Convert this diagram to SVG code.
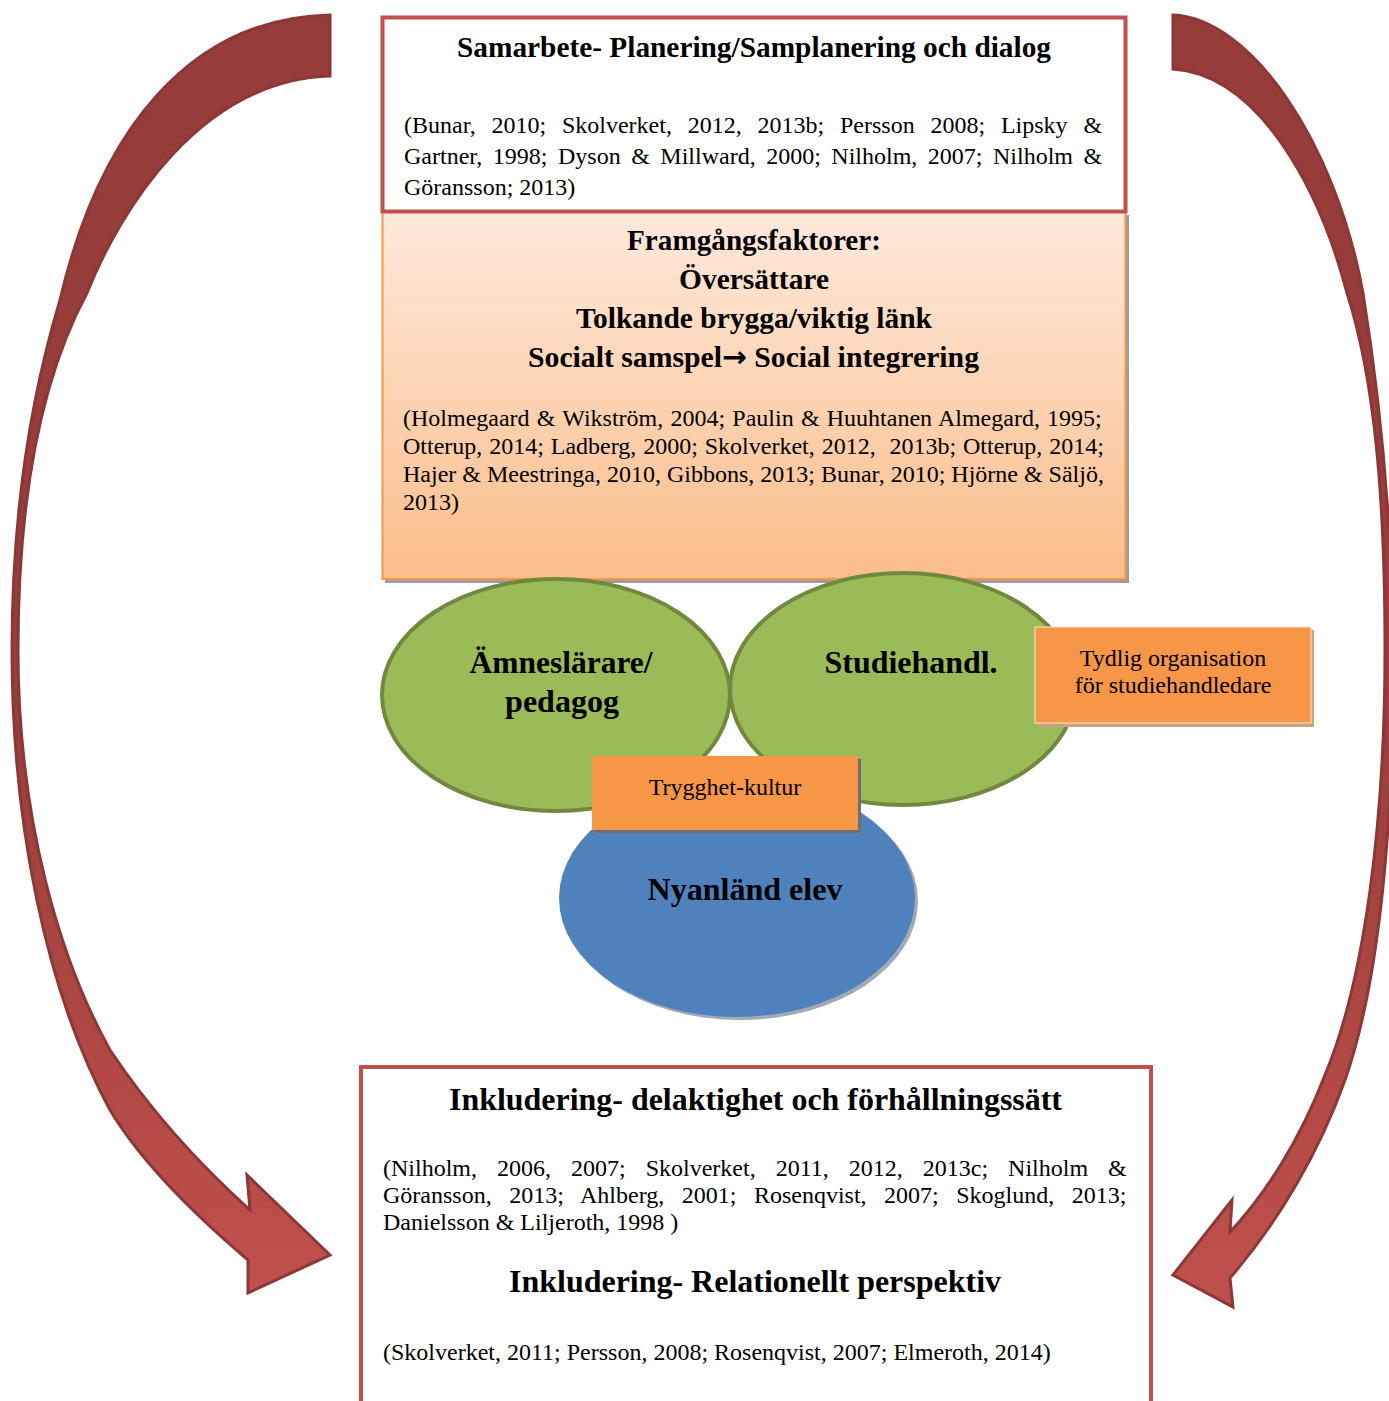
<svg xmlns="http://www.w3.org/2000/svg" width="1389" height="1401" viewBox="0 0 1389 1401">
  <defs>
    <linearGradient id="arrowFill" gradientUnits="userSpaceOnUse" x1="0" y1="0" x2="0" y2="1300">
      <stop offset="0" stop-color="#963c3a"/>
      <stop offset="0.55" stop-color="#983e3c"/>
      <stop offset="0.8" stop-color="#b04845"/>
      <stop offset="1" stop-color="#c0504d"/>
    </linearGradient>
    <linearGradient id="peach" x1="0" y1="0" x2="0" y2="1">
      <stop offset="0" stop-color="#fee9dc"/>
      <stop offset="1" stop-color="#fbbd8a"/>
    </linearGradient>
    <style>
      .arrow { fill: url(#arrowFill); stroke: #8c3836; stroke-width: 3; stroke-linejoin: miter; }
      .frame { fill: #ffffff; stroke: #c0504d; stroke-width: 4; }
      .green { fill: #9bbb59; stroke: #71893f; stroke-width: 4; }
      .tag { fill: #f79646; }
      text { font-family: "Liberation Serif", "Times New Roman", serif; fill: #000000; }
      .h { font-size: 29px; font-weight: bold; text-anchor: middle; }
      .hb { font-size: 32px; font-weight: bold; text-anchor: middle; }
      .c { font-size: 24px; white-space: pre; }
      .cm { font-size: 24px; text-anchor: middle; }
    </style>
  </defs>

  <!-- curved feedback arrows on both sides -->
  <g id="connectors">
    <path id="arrow-left" class="arrow" d="M330,15 C190,18 100,130 60,300 C30,400 12,520 12,650 C12,820 45,990 110,1110 C140,1160 195,1215 248,1260 L248,1293 L330,1255 L247,1175 L250,1210 C200,1165 150,1110 110,1050 C60,960 18,820 18,650 C18,500 40,380 87,293 C120,210 200,80 330,76 Z"/>
    <path id="arrow-right" class="arrow" d="M1173,15 C1250,18 1335,140 1363,293 C1380,400 1392,520 1393,650 C1394,820 1380,980 1345,1080 C1320,1150 1280,1220 1230,1278 L1233,1307 L1173,1275 L1232,1200 L1230,1232 C1265,1195 1300,1140 1325,1075 C1365,980 1385,820 1385,650 C1385,500 1375,380 1347,293 C1320,190 1260,75 1173,69 Z"/>
  </g>

  <!-- success factors panel -->
  <g id="framgangsfaktorer">
    <rect x="385" y="215" width="744" height="368" fill="#9c9c9c"/>
    <rect x="382.5" y="212" width="743" height="367" fill="url(#peach)" stroke="#f79646" stroke-width="2"/>
    <text class="h" x="754" y="250" textLength="254" lengthAdjust="spacingAndGlyphs">Framgångsfaktorer:</text>
    <text class="h" x="754" y="289" textLength="150" lengthAdjust="spacingAndGlyphs">Översättare</text>
    <text class="h" x="754" y="328" textLength="356" lengthAdjust="spacingAndGlyphs">Tolkande brygga/viktig länk</text>
    <text class="h" x="753.5" y="367" textLength="451" lengthAdjust="spacingAndGlyphs">Socialt samspel<tspan font-family="DejaVu Sans, sans-serif">→</tspan> Social integrering</text>
    <text class="c" x="403" y="426" word-spacing="1.2">(Holmegaard &amp; Wikström, 2004; Paulin &amp; Huuhtanen Almegard, 1995;</text>
    <text class="c" x="403" y="454" word-spacing="0.9">Otterup, 2014; Ladberg, 2000; Skolverket, 2012,  2013b; Otterup, 2014;</text>
    <text class="c" x="403" y="482">Hajer &amp; Meestringa, 2010, Gibbons, 2013; Bunar, 2010; Hjörne &amp; Säljö,</text>
    <text class="c" x="403" y="510">2013)</text>
  </g>

  <!-- cooperation box -->
  <g id="samarbete">
    <rect class="frame" x="382.5" y="17.5" width="743" height="194"/>
    <text class="h" x="754" y="57" textLength="594" lengthAdjust="spacingAndGlyphs">Samarbete- Planering/Samplanering och dialog</text>
    <text class="c" x="404" y="133" word-spacing="9.8">(Bunar, 2010; Skolverket, 2012, 2013b; Persson 2008; Lipsky &amp;</text>
    <text class="c" x="404" y="164" word-spacing="4.5">Gartner, 1998; Dyson &amp; Millward, 2000; Nilholm, 2007; Nilholm &amp;</text>
    <text class="c" x="404" y="195">Göransson; 2013)</text>
  </g>

  <!-- newly arrived pupil -->
  <g id="nyanland-elev">
    <ellipse cx="740" cy="901" rx="178" ry="119" fill="#a3a9b5"/>
    <ellipse cx="737" cy="898" rx="178" ry="119" fill="#4f81bd"/>
    <text class="hb" x="745" y="900" textLength="195" lengthAdjust="spacingAndGlyphs">Nyanländ elev</text>
  </g>

  <g id="amneslarare">
    <ellipse class="green" cx="556" cy="695" rx="174" ry="116"/>
    <text class="hb" x="561" y="673" textLength="183" lengthAdjust="spacingAndGlyphs">Ämneslärare/</text>
    <text class="hb" x="562" y="712">pedagog</text>
  </g>

  <g id="studiehandledare">
    <ellipse class="green" cx="903" cy="689" rx="173" ry="116"/>
    <text class="hb" x="911" y="673" textLength="173" lengthAdjust="spacingAndGlyphs">Studiehandl.</text>
  </g>

  <g id="trygghet-kultur">
    <rect x="595" y="759" width="266" height="74" fill="#6f6f6f"/>
    <rect class="tag" x="592" y="756" width="266" height="74"/>
    <text class="cm" x="725" y="795">Trygghet-kultur</text>
  </g>

  <g id="tydlig-organisation">
    <rect x="1038" y="630" width="276" height="97" fill="#c9a27e"/>
    <rect class="tag" x="1035" y="627" width="276" height="96" stroke="#fde3cf" stroke-width="1"/>
    <text class="cm" x="1173" y="666">Tydlig organisation</text>
    <text class="cm" x="1173" y="693">för studiehandledare</text>
  </g>

  <!-- inclusion box -->
  <g id="inkludering">
    <rect class="frame" x="361" y="1067" width="790" height="360"/>
    <text class="hb" x="755.5" y="1110" textLength="613" lengthAdjust="spacingAndGlyphs">Inkludering- delaktighet och förhållningssätt</text>
    <text class="c" x="383" y="1176" word-spacing="14">(Nilholm, 2006, 2007; Skolverket, 2011, 2012, 2013c; Nilholm &amp;</text>
    <text class="c" x="383" y="1203" word-spacing="11.5">Göransson, 2013; Ahlberg, 2001; Rosenqvist, 2007; Skoglund, 2013;</text>
    <text class="c" x="383" y="1230">Danielsson &amp; Liljeroth, 1998 )</text>
    <text class="hb" x="755" y="1292" textLength="492" lengthAdjust="spacingAndGlyphs">Inkludering- Relationellt perspektiv</text>
    <text class="c" x="383" y="1360">(Skolverket, 2011; Persson, 2008; Rosenqvist, 2007; Elmeroth, 2014)</text>
  </g>
</svg>
